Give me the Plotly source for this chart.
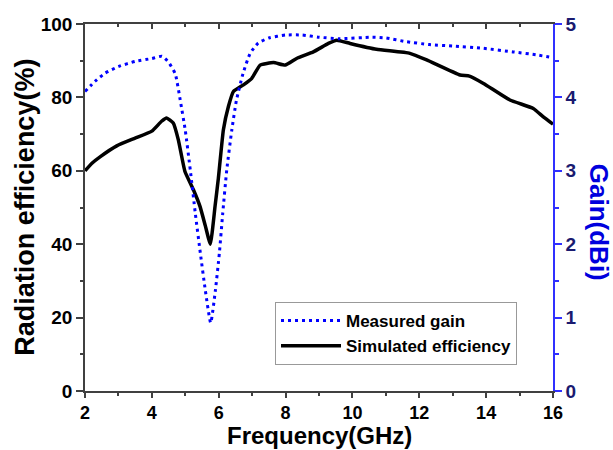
import plotly.graph_objects as go

# Measured gain (dBi) vs frequency (GHz)
freq_gain = [2.0, 2.3, 2.6, 3.0, 3.5, 4.0, 4.3, 4.5, 4.7, 4.85, 5.0, 5.15, 5.3, 5.45, 5.6, 5.76,
             5.9, 6.02, 6.12, 6.24, 6.39, 6.53, 6.73, 6.94, 7.18, 7.5, 8.0, 8.5, 9.0, 9.6, 10.6,
             11.0, 11.6, 12.3, 13.0, 13.9, 14.8, 15.5, 16.0]
gain_dbi = [4.08, 4.22, 4.33, 4.42, 4.49, 4.53, 4.56, 4.48, 4.32, 3.96, 3.55, 3.01, 2.42, 1.88, 1.37, 0.93,
            1.37, 1.88, 2.42, 3.01, 3.55, 3.96, 4.33, 4.60, 4.74, 4.81, 4.85, 4.85, 4.82, 4.80, 4.82,
            4.81, 4.76, 4.72, 4.70, 4.67, 4.62, 4.58, 4.54]

# Simulated radiation efficiency (%) vs frequency (GHz)
freq_eff = [2.0, 2.2, 2.45, 2.95, 3.5, 4.0, 4.29, 4.44, 4.64, 4.79, 4.99, 5.24, 5.44, 5.6, 5.75,
            5.89, 5.99, 6.14, 6.29, 6.44, 6.74, 6.99, 7.24, 7.64, 7.99, 8.33, 8.83, 9.28, 9.53,
            9.93, 10.72, 11.72, 12.22, 13.22, 13.5, 13.92, 14.71, 15.41, 15.71, 16.0]
efficiency = [60.0, 62.0, 63.8, 66.8, 68.9, 70.8, 73.5, 74.4, 73.0, 68.5, 59.8, 54.9, 50.3, 45.0, 40.0,
              50.3, 58.0, 71.2, 77.5, 81.6, 83.4, 85.2, 88.8, 89.5, 88.8, 90.6, 92.4, 94.7, 95.6,
              94.7, 93.1, 92.0, 90.2, 86.1, 85.8, 83.8, 79.3, 77.0, 74.7, 72.7]

x_ticks = [2, 4, 6, 8, 10, 12, 14, 16]
y_left_ticks = [0, 20, 40, 60, 80, 100]
y_right_ticks = [0, 1, 2, 3, 4, 5]

FONT = "Liberation Sans, Arial, sans-serif"

fig = go.Figure()
fig.add_trace(go.Scatter(
    x=freq_gain, y=gain_dbi, name="Measured gain", yaxis="y2",
    mode="lines", line=dict(color="#0000ff", width=3, dash="3px,4px", shape="spline", smoothing=0.5),
))
fig.add_trace(go.Scatter(
    x=freq_eff, y=efficiency, name="Simulated efficiency", yaxis="y",
    mode="lines", line=dict(color="black", width=3.5, shape="spline", smoothing=0.4),
))
# helper trace for top mirrored axis
fig.add_trace(go.Scatter(x=[2, 16], y=[0, 0], xaxis="x2", yaxis="y", mode="lines",
                         line=dict(width=0), showlegend=False, hoverinfo="skip"))

fig.update_layout(
    width=613, height=450,
    margin=dict(l=85, r=60, t=24, b=59),
    paper_bgcolor="white", plot_bgcolor="white",
    font=dict(family=FONT, color="black"),
    showlegend=True,
    legend=dict(
        x=0.406, y=0.2425, xanchor="left", yanchor="top",
        bgcolor="white", bordercolor="#999999", borderwidth=1,
        font=dict(family=FONT, size=17, weight="bold", color="black"),
        itemwidth=60, tracegroupgap=0,
    ),
    xaxis=dict(
        range=[2, 16], tickvals=x_ticks, ticktext=[str(v) for v in x_ticks],
        showgrid=False, zeroline=False,
        showline=True, linecolor="#404040", linewidth=1.5,
        ticks="outside", ticklen=5, tickwidth=1.5, tickcolor="#404040",
        minor=dict(ticks="outside", ticklen=3, tickwidth=1.5, tickcolor="#404040", dtick=1, showgrid=False),
        tickfont=dict(family=FONT, size=18, weight="bold", color="black"),
    ),
    xaxis2=dict(
        overlaying="x", side="top", matches="x", range=[2, 16], tickvals=x_ticks,
        showticklabels=False, showgrid=False, zeroline=False,
        showline=True, linecolor="#404040", linewidth=1.5,
        ticks="inside", ticklen=5, tickwidth=1.5, tickcolor="#404040",
        minor=dict(ticks="inside", ticklen=3, tickwidth=1.5, tickcolor="#404040", dtick=1, showgrid=False),
    ),
    yaxis=dict(
        range=[0, 100], tickvals=y_left_ticks, ticktext=[str(v) for v in y_left_ticks],
        showgrid=False, zeroline=False,
        showline=True, linecolor="#404040", linewidth=1.5,
        ticks="outside", ticklen=7, tickwidth=1.5, tickcolor="#404040",
        minor=dict(ticks="outside", ticklen=3, tickwidth=1.5, tickcolor="#404040", dtick=10, showgrid=False),
        tickfont=dict(family=FONT, size=19, weight="bold", color="black"),
    ),
    yaxis2=dict(
        overlaying="y", side="right", range=[0, 5], tickvals=y_right_ticks,
        ticktext=[str(v) for v in y_right_ticks],
        showgrid=False, zeroline=False,
        showline=True, linecolor="#3030ff", linewidth=1.5,
        ticks="outside", ticklen=7, tickwidth=1.5, tickcolor="#3030ff",
        minor=dict(ticks="outside", ticklen=4, tickwidth=1.5, tickcolor="#3030ff", dtick=0.5, showgrid=False),
        tickfont=dict(family=FONT, size=19, weight="bold", color="#1a1a70"),
    ),
    annotations=[
        dict(text="Radiation efficiency(%)", xref="paper", yref="paper", x=-0.13, y=0.5,
             xanchor="center", yanchor="middle", textangle=-90, showarrow=False,
             font=dict(family=FONT, size=27, weight="bold", color="black")),
        dict(text="Gain(dBi)", xref="paper", yref="paper", x=1.097, y=0.46,
             xanchor="center", yanchor="middle", textangle=90, showarrow=False,
             font=dict(family=FONT, size=26, weight="bold", color="#0000dd")),
        dict(text="Frequency(GHz)", xref="paper", yref="paper", x=0.5, y=-0.1226,
             xanchor="center", yanchor="middle", showarrow=False,
             font=dict(family=FONT, size=24, weight="bold", color="black")),
    ],
)

fig.write_html("out.html")
